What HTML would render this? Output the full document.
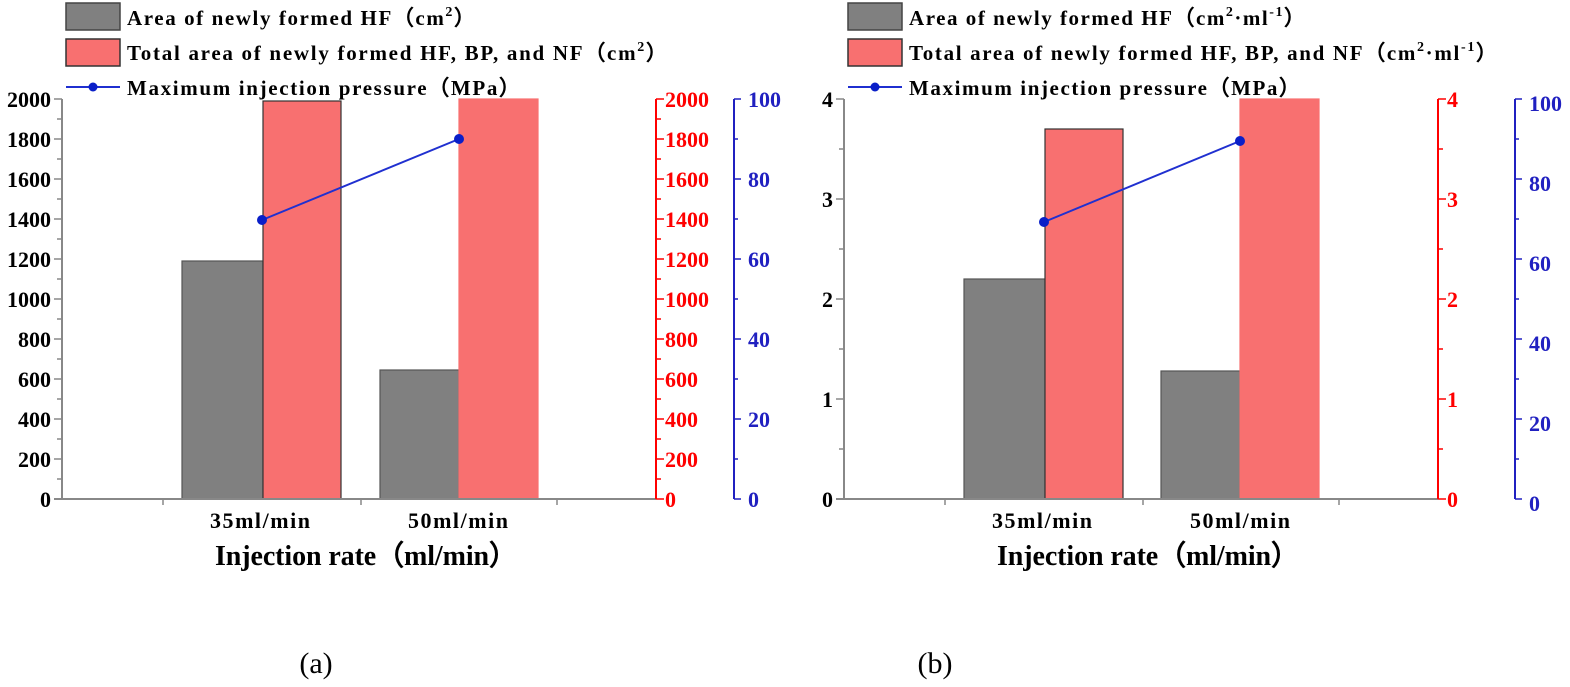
<!DOCTYPE html>
<html><head><meta charset="utf-8"><style>
html,body{margin:0;padding:0;background:#fff;}
svg{display:block;font-family:"Liberation Serif",serif;font-weight:bold;}
</style></head><body>
<svg id="s" width="1570" height="687" viewBox="0 0 1570 687" xmlns="http://www.w3.org/2000/svg"></svg>
<script>
const s=document.getElementById('s');let h='';
function chart(o,leg,lens,leftMax,leftStep,leftMinor,g1,r1,g2,r2,p1,p2,redX,blueX,blueOff){
 const L=62+o,T=99,B=499,R=redX;
 h+=`<rect x="${66+o}" y="3" width="54" height="27" fill="#808080" stroke="#444" stroke-width="1.5"/>`;
 h+=`<rect x="${66+o}" y="39" width="54" height="27" fill="#f87070" stroke="#333" stroke-width="1.5"/>`;
 h+=`<line x1="${66+o}" y1="87" x2="${120+o}" y2="87" stroke="#1f2fd0" stroke-width="2"/><circle cx="${93+o}" cy="87" r="4.5" fill="#0a1fc8"/>`;
 leg.forEach((t,i)=>{h+=`<text x="${127+o}" y="${25+i*35}" font-size="21" textLength="${lens[i]}" lengthAdjust="spacing">${t}</text>`;});
 const y=v=>B-v/leftMax*400;
 const bar=(x1,x2,v,c,st)=>{const t=Math.max(T,y(v));h+=`<rect x="${x1}" y="${t}" width="${x2-x1}" height="${B-t}" fill="${c}" stroke="${st}" stroke-width="1.2"/>`;};
 bar(g1[0],g1[1],g1[2],'#808080','#555');bar(r1[0],r1[1],r1[2],'#f87070','#333');
 bar(g2[0],g2[1],g2[2],'#808080','#555');bar(r2[0],r2[1],r2[2],'#f87070','#f87070');
 h+=`<line x1="${L}" y1="${T}" x2="${L}" y2="${B}" stroke="#888" stroke-width="2"/>`;
 h+=`<line x1="${L-8}" y1="${B}" x2="${R}" y2="${B}" stroke="#888" stroke-width="2"/>`;
 h+=`<line x1="${R}" y1="${T}" x2="${R}" y2="${B}" stroke="#f00" stroke-width="2"/>`;
 h+=`<line x1="${blueX}" y1="${T}" x2="${blueX}" y2="${B}" stroke="#2020c0" stroke-width="2"/>`;
 for(let v=0;v<=leftMax+1e-9;v+=leftMinor){const yy=y(v);const maj=Math.abs(v/leftStep-Math.round(v/leftStep))<1e-6;
  h+=`<line x1="${L-(maj?8:5)}" y1="${yy}" x2="${L}" y2="${yy}" stroke="#888" stroke-width="1.5"/>`;
  h+=`<line x1="${R}" y1="${yy}" x2="${R+(maj?8:5)}" y2="${yy}" stroke="#f00" stroke-width="1.5"/>`;
  if(maj){const lab=Math.round(v);
   h+=`<text x="${L-11}" y="${yy+8}" font-size="22" text-anchor="end">${lab}</text>`;
   h+=`<text x="${R+9}" y="${yy+8}" font-size="22" fill="#f00">${lab}</text>`;}
 }
 for(let v=0;v<=100;v+=10){const yy=B-v*4;const maj=v%20==0;
  h+=`<line x1="${blueX}" y1="${yy}" x2="${blueX+(maj?7:4)}" y2="${yy}" stroke="#2020c0" stroke-width="1.5"/>`;
  if(maj)h+=`<text x="${blueX+14}" y="${yy+8+blueOff}" font-size="22" fill="#2020c0">${v}</text>`;}
 [163,361,557].forEach(x=>{h+=`<line x1="${x+o}" y1="${B}" x2="${x+o}" y2="${B+6}" stroke="#888" stroke-width="1.5"/>`;});
 h+=`<text x="${210+o}" y="528" font-size="22" textLength="100" lengthAdjust="spacing">35ml/min</text>`;
 h+=`<text x="${408+o}" y="528" font-size="22" textLength="100" lengthAdjust="spacing">50ml/min</text>`;
 h+=`<text x="${215+o}" y="565" font-size="28" textLength="302" lengthAdjust="spacing">Injection rate（ml/min）</text>`;
 h+=`<line x1="${p1[0]}" y1="${p1[1]}" x2="${p2[0]}" y2="${p2[1]}" stroke="#2030d0" stroke-width="2"/>`;
 h+=`<circle cx="${p1[0]}" cy="${p1[1]}" r="5" fill="#0a1fc8"/><circle cx="${p2[0]}" cy="${p2[1]}" r="5" fill="#0a1fc8"/>`;
}
chart(0,['Area of newly formed HF（cm<tspan dy="-9" font-size="14">2</tspan><tspan dy="9">）</tspan>',
 'Total area of newly formed HF, BP, and NF（cm<tspan dy="-9" font-size="14">2</tspan><tspan dy="9">）</tspan>',
 'Maximum injection pressure（MPa）'],[348,540,393],2000,200,100,
 [182,263,1190],[263,341,1990],[380,459,645],[459,538,2100],[262,220],[459,139],656,734,0);
chart(782,['Area of newly formed HF（cm<tspan dy="-9" font-size="14">2</tspan><tspan dy="9">·ml</tspan><tspan dy="-9" font-size="14">-1</tspan><tspan dy="9">）</tspan>',
 'Total area of newly formed HF, BP, and NF（cm<tspan dy="-9" font-size="14">2</tspan><tspan dy="9">·ml</tspan><tspan dy="-9" font-size="14">-1</tspan><tspan dy="9">）</tspan>',
 'Maximum injection pressure（MPa）'],[396,588,391],4,1,0.5,
 [964,1045,2.2],[1045,1123,3.7],[1161,1240,1.28],[1240,1319,4.2],[1044,222],[1240,141],1438,1515,4);
h+=`<text x="316" y="673" font-size="30" font-weight="normal" text-anchor="middle">(a)</text>`;
h+=`<text x="935" y="673" font-size="30" font-weight="normal" text-anchor="middle">(b)</text>`;
s.innerHTML=h;
</script>
</body></html>
